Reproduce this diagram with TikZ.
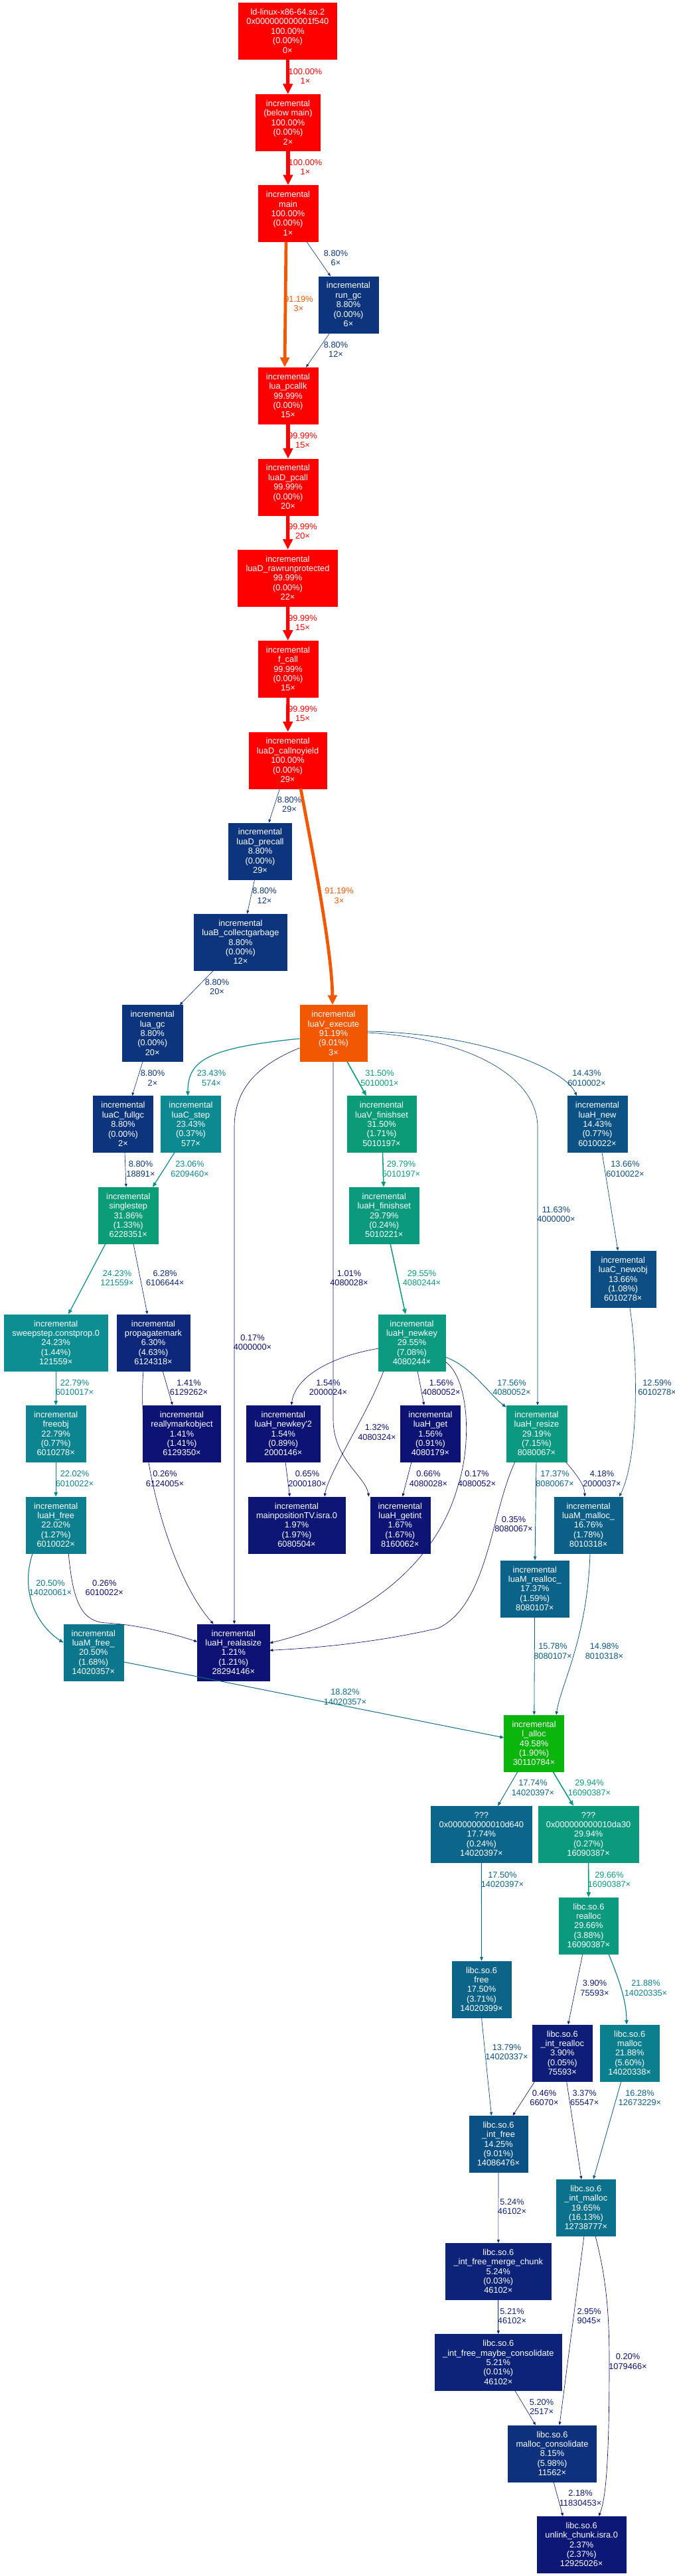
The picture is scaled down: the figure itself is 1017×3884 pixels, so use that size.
\documentclass[tikz,border=0pt]{standalone}
\usepackage{fontspec}
\setmainfont{Liberation Sans}
\usetikzlibrary{arrows.meta}

\newcommand\nodefont{\fontsize{12.8pt}{14.4pt}\selectfont}

% heat colour of a percentage: blue (0%) -> red (100%), in HSL
\newcommand\heatcolor[2]{%
  \pgfmathsetmacro\gpw{(#2)/100}%
  \pgfmathsetmacro\gph{2/3*(1-\gpw)}%
  \pgfmathsetmacro\gpl{0.25+0.25*\gpw}%
  \pgfmathsetmacro\gpb{\gpl*(1.8+0.2*\gpw)}%
  \pgfmathsetmacro\gpa{2*\gpl-\gpb}%
  \pgfmathsetmacro\gpr{ifthenelse(\gph<1/6, \gpb, ifthenelse(\gph<1/3, \gpa+(\gpb-\gpa)*(1/3-\gph)*6, \gpa))}%
  \pgfmathsetmacro\gpg{ifthenelse(\gph<1/6, \gpa+(\gpb-\gpa)*\gph*6, ifthenelse(\gph<1/2, \gpb, \gpa+(\gpb-\gpa)*(2/3-\gph)*6))}%
  \pgfmathsetmacro\gpbl{ifthenelse(\gph<1/3, \gpa, ifthenelse(\gph<1/2, \gpa+(\gpb-\gpa)*(\gph-1/3)*6, \gpb))}%
  \definecolor{#1}{rgb}{\gpr,\gpg,\gpbl}%
}

\tikzset{
  box/.style={rectangle, align=center, text=white, font=\nodefont,
    inner xsep=12pt, minimum height=85pt},
  heat/.code={\heatcolor{hc}{#1}\pgfkeysalso{fill=hc, draw=hc}},
  pct/.code={\heatcolor{hc}{#1}\pgfkeysalso{text=hc, align=center, font=\nodefont, inner sep=0pt}},
  calls/.code={\heatcolor{hc}{#1}%
    \pgfmathsetmacro\penw{max(0.04*(#1),0.5)}%
    \pgfmathsetmacro\linew{1.3*\penw}%
    \pgfmathsetmacro\tipl{6.5*sqrt(\penw)+0.5*\linew}%
    \pgfmathsetmacro\tipw{4.55*sqrt(\penw)+\linew}%
    \edef\calltip{\noexpand\pgfkeysalso{draw=hc, line width=\linew pt,
      -{Triangle[length=\tipl pt, width=\tipw pt]}}}\calltip},
}

\begin{document}
\begin{tikzpicture}[x=1pt, y=-1pt]
    \useasboundingbox (0,0) rectangle (1017,3884);
    \fill[white] (0,0) rectangle (1017,3884);

    % call chain down to the interpreter
    \node[box, heat=100] (ld) at (433.4,46.8) {ld-linux-x86-64.so.2\\0x000000000001f540\\100.00\%\\(0.00\%)\\0×};
    \node[box, heat=100] (belowmain) at (434,184.7) {incremental\\(below main)\\100.00\%\\(0.00\%)\\2×};
    \node[box, heat=100] (main) at (434,321.8) {incremental\\main\\100.00\%\\(0.00\%)\\1×};
    \node[box, heat=8.80] (rungc) at (525,459.2) {incremental\\run\_gc\\8.80\%\\(0.00\%)\\6×};
    \node[box, heat=99.99] (pcallk) at (434,596.5) {incremental\\lua\_pcallk\\99.99\%\\(0.00\%)\\15×};
    \node[box, heat=99.99] (dpcall) at (434,734.2) {incremental\\luaD\_pcall\\99.99\%\\(0.00\%)\\20×};
    \node[box, heat=99.99] (rawrun) at (433.5,871.2) {incremental\\luaD\_rawrunprotected\\99.99\%\\(0.00\%)\\22×};
    \node[box, heat=99.99] (fcall) at (434,1008.5) {incremental\\f\_call\\99.99\%\\(0.00\%)\\15×};
    \node[box, heat=100] (noyield) at (433.6,1146.2) {incremental\\luaD\_callnoyield\\100.00\%\\(0.00\%)\\29×};
    \node[box, heat=8.80] (precall) at (392,1283.2) {incremental\\luaD\_precall\\8.80\%\\(0.00\%)\\29×};
    \node[box, heat=8.80] (collectgc) at (362.4,1420.5) {incremental\\luaB\_collectgarbage\\8.80\%\\(0.00\%)\\12×};
    \node[box, heat=8.80] (luagc) at (229.7,1558) {incremental\\lua\_gc\\8.80\%\\(0.00\%)\\20×};
    \node[box, heat=91.19] (execute) at (502.5,1558) {incremental\\luaV\_execute\\91.19\%\\(9.01\%)\\3×};

    % collector and table functions
    \node[box, heat=8.80] (fullgc) at (185.5,1695) {incremental\\luaC\_fullgc\\8.80\%\\(0.00\%)\\2×};
    \node[box, heat=23.43] (cstep) at (287.5,1695) {incremental\\luaC\_step\\23.43\%\\(0.37\%)\\577×};
    \node[box, heat=31.50] (vfinish) at (575,1695) {incremental\\luaV\_finishset\\31.50\%\\(1.71\%)\\5010197×};
    \node[box, heat=14.43] (hnew) at (900,1695) {incremental\\luaH\_new\\14.43\%\\(0.77\%)\\6010022×};
    \node[box, heat=31.86] (single) at (193.3,1832.5) {incremental\\singlestep\\31.86\%\\(1.33\%)\\6228351×};
    \node[box, heat=29.79] (hfinish) at (578.8,1832.5) {incremental\\luaH\_finishset\\29.79\%\\(0.24\%)\\5010221×};
    \node[box, heat=13.66] (newobj) at (938.8,1928.5) {incremental\\luaC\_newobj\\13.66\%\\(1.08\%)\\6010278×};
    \node[box, heat=24.23] (sweep) at (84.2,2024.2) {incremental\\sweepstep.constprop.0\\24.23\%\\(1.44\%)\\121559×};
    \node[box, heat=6.30] (propmark) at (231,2024.2) {incremental\\propagatemark\\6.30\%\\(4.63\%)\\6124318×};
    \node[box, heat=29.55] (newkey) at (620.5,2024.2) {incremental\\luaH\_newkey\\29.55\%\\(7.08\%)\\4080244×};
    \node[box, heat=22.79] (freeobj) at (84.2,2161.5) {incremental\\freeobj\\22.79\%\\(0.77\%)\\6010278×};
    \node[box, heat=1.41] (reallymark) at (274,2161.5) {incremental\\reallymarkobject\\1.41\%\\(1.41\%)\\6129350×};
    \node[box, heat=1.54] (newkeyb) at (426.8,2161.5) {incremental\\luaH\_newkey\textquotesingle 2\\1.54\%\\(0.89\%)\\2000146×};
    \node[box, heat=1.56] (hget) at (648.5,2161.5) {incremental\\luaH\_get\\1.56\%\\(0.91\%)\\4080179×};
    \node[box, heat=29.19] (resize) at (808.5,2161.5) {incremental\\luaH\_resize\\29.19\%\\(7.15\%)\\8080067×};
    \node[box, heat=22.02] (hfree) at (84.2,2299.2) {incremental\\luaH\_free\\22.02\%\\(1.27\%)\\6010022×};
    \node[box, heat=1.97] (mainpos) at (447,2299.2) {incremental\\mainpositionTV.isra.0\\1.97\%\\(1.97\%)\\6080504×};
    \node[box, heat=1.67] (getint) at (602.8,2299.2) {incremental\\luaH\_getint\\1.67\%\\(1.67\%)\\8160062×};
    \node[box, heat=16.76] (mmalloc) at (886.6,2299.2) {incremental\\luaM\_malloc\_\\16.76\%\\(1.78\%)\\8010318×};
    \node[box, heat=17.37] (mrealloc) at (805.8,2395.2) {incremental\\luaM\_realloc\_\\17.37\%\\(1.59\%)\\8080107×};
    \node[box, heat=20.50] (mfree) at (140.8,2491.3) {incremental\\luaM\_free\_\\20.50\%\\(1.68\%)\\14020357×};
    \node[box, heat=1.21] (realasize) at (351.8,2491.3) {incremental\\luaH\_realasize\\1.21\%\\(1.21\%)\\28294146×};
    \node[box, heat=49.58] (lalloc) at (804.6,2628.5) {incremental\\l\_alloc\\49.58\%\\(1.90\%)\\30110784×};

    % libc allocator
    \node[box, heat=17.74] (ua) at (725.4,2765.5) {???\\0x000000000010d640\\17.74\%\\(0.24\%)\\14020397×};
    \node[box, heat=29.94] (ub) at (886.6,2765.5) {???\\0x000000000010da30\\29.94\%\\(0.27\%)\\16090387×};
    \node[box, heat=29.66] (crealloc) at (886.9,2903.3) {libc.so.6\\realloc\\29.66\%\\(3.88\%)\\16090387×};
    \node[box, heat=17.50] (cfree) at (725.5,2999.2) {libc.so.6\\free\\17.50\%\\(3.71\%)\\14020399×};
    \node[box, heat=3.90] (intrealloc) at (847.3,3095.2) {libc.so.6\\\_int\_realloc\\3.90\%\\(0.05\%)\\75593×};
    \node[box, heat=21.88] (cmalloc) at (948.7,3095.2) {libc.so.6\\malloc\\21.88\%\\(5.60\%)\\14020338×};
    \node[box, heat=14.25] (intfree) at (751,3232.5) {libc.so.6\\\_int\_free\\14.25\%\\(9.01\%)\\14086476×};
    \node[box, heat=19.65] (intmalloc) at (882.8,3328.5) {libc.so.6\\\_int\_malloc\\19.65\%\\(16.13\%)\\12738777×};
    \node[box, heat=5.24] (merge) at (750.8,3424.5) {libc.so.6\\\_int\_free\_merge\_chunk\\5.24\%\\(0.03\%)\\46102×};
    \node[box, heat=5.21] (maybe) at (750.8,3561.8) {libc.so.6\\\_int\_free\_maybe\_consolidate\\5.21\%\\(0.01\%)\\46102×};
    \node[box, heat=8.15] (consol) at (832,3699.2) {libc.so.6\\malloc\_consolidate\\8.15\%\\(5.98\%)\\11562×};
    \node[box, heat=2.37] (unlink) at (876.2,3836.5) {libc.so.6\\unlink\_chunk.isra.0\\2.37\%\\(2.37\%)\\12925026×};

    % calls
    \draw[calls=100] (ld) -- (belowmain);
    \draw[calls=100] (belowmain) -- (main);
    \draw[calls=8.80] ([xshift=28pt]main.south) -- ([xshift=-27pt]rungc.north);
    \draw[calls=91.19] ([xshift=-3pt]main.south) -- ([xshift=-5pt]pcallk.north);
    \draw[calls=8.80] ([xshift=-28pt]rungc.south) -- ([xshift=27pt]pcallk.north);
    \draw[calls=99.99] (pcallk) -- (dpcall);
    \draw[calls=99.99] (dpcall) -- (rawrun);
    \draw[calls=99.99] (rawrun) -- (fcall);
    \draw[calls=99.99] (fcall) -- (noyield);
    \draw[calls=8.80] ([xshift=-12pt]noyield.south) -- ([xshift=13pt]precall.north);
    \draw[calls=91.19] ([xshift=19.4pt]noyield.south) .. controls (470,1280) and (500,1430) .. ([xshift=-1.5pt]execute.north);
    \draw[calls=8.80] ([xshift=-8.3pt]precall.south) -- ([xshift=10pt]collectgc.north);
    \draw[calls=8.80] ([xshift=-40.8pt]collectgc.south) -- ([xshift=41pt]luagc.north);
    \draw[calls=8.80] ([xshift=-14.7pt]luagc.south) -- ([xshift=13.5pt]fullgc.north);
    \draw[calls=23.43] ([yshift=-8pt]execute.west) .. controls (310,1580) and (283,1600) .. ([xshift=-4.5pt]cstep.north);
    \draw[calls=31.50] ([xshift=20.5pt]execute.south) -- ([xshift=-23pt]vfinish.north);
    \draw[calls=14.43] ([yshift=3pt]execute.east) .. controls (720,1558) and (850,1610) .. ([xshift=-31pt]hnew.north);
    \draw[calls=11.63] ([yshift=1pt]execute.east) .. controls (700,1565) and (810,1620) .. (810,1700) -- ([xshift=1.5pt]resize.north);
    \draw[calls=0.17] ([yshift=-22pt]execute.west) .. controls (390,1605) and (353,1640) .. (353,1700) -- ([xshift=1.2pt]realasize.north);
    \draw[calls=1.01] ([xshift=-0.5pt]execute.south) -- (502,2140) .. controls (502,2200) and (550,2225) .. ([xshift=-47pt]getint.north);
    \draw[calls=8.80] ([xshift=2.5pt]fullgc.south) -- ([xshift=-3.3pt]single.north);
    \draw[calls=23.06] ([xshift=-24.5pt]cstep.south) -- ([xshift=36.7pt]single.north);
    \draw[calls=29.79] ([xshift=1.5pt]vfinish.south) -- ([xshift=-0.8pt]hfinish.north);
    \draw[calls=13.66] ([xshift=7pt]hnew.south) -- ([xshift=-7.8pt]newobj.north);
    \draw[calls=24.23] ([xshift=-34.3pt]single.south) -- ([xshift=18.8pt]sweep.north);
    \draw[calls=6.28] ([xshift=7.7pt]single.south) -- ([xshift=-9pt]propmark.north);
    \draw[calls=29.55] ([xshift=9.2pt]hfinish.south) -- ([xshift=-9.5pt]newkey.north);
    \draw[calls=22.79] (sweep) -- (freeobj);
    \draw[calls=1.41] ([xshift=14pt]propmark.south) -- ([xshift=-14pt]reallymark.north);
    \draw[calls=0.26] ([xshift=-15pt]propmark.south) .. controls (205,2200) and (260,2380) .. ([xshift=-30.2pt]realasize.north);
    \draw[calls=1.54] ([yshift=-9pt]newkey.west) .. controls (500,2045) and (445,2075) .. ([xshift=12.2pt]newkeyb.north);
    \draw[calls=1.56] ([xshift=8.5pt]newkey.south) -- ([xshift=-9.5pt]hget.north);
    \draw[calls=17.56] ([yshift=-22pt]newkey.east) .. controls (710,2060) and (735,2100) .. ([yshift=-3pt]resize.north west);
    \draw[calls=1.32] ([xshift=-42.5pt]newkey.south) .. controls (555,2130) and (495,2220) .. ([xshift=42pt]mainpos.north);
    \draw[calls=0.17] ([yshift=-29pt]newkey.east) .. controls (708,2080) and (710,2180) .. (690,2240) .. controls (660,2350) and (560,2440) .. ([yshift=14pt]realasize.east);
    \draw[calls=0.65] ([xshift=3.2pt]newkeyb.south) -- ([xshift=-10.4pt]mainpos.north);
    \draw[calls=0.66] ([xshift=-28.5pt]hget.south) -- ([xshift=3.7pt]getint.north);
    \draw[calls=17.37] ([xshift=-0.5pt]resize.south) -- ([xshift=0.2pt]mrealloc.north);
    \draw[calls=4.18] ([xshift=-2pt]resize.south east) .. controls (870,2225) and (881,2240) .. ([xshift=-5.6pt]mmalloc.north);
    \draw[calls=0.35] ([xshift=-32.5pt]resize.south) .. controls (740,2280) and (735,2420) .. (660,2455) .. controls (560,2478) and (470,2485) .. ([yshift=3pt]realasize.east);
    \draw[calls=12.59] ([xshift=10pt]newobj.south) .. controls (962,2050) and (962,2200) .. ([xshift=46.4pt]mmalloc.north);
    \draw[calls=22.02] (freeobj) -- (hfree);
    \draw[calls=20.50] ([xshift=-35pt]hfree.south) .. controls (30,2400) and (55,2450) .. ([yshift=14.6pt]mfree.west);
    \draw[calls=0.26] ([xshift=19pt]hfree.south) .. controls (110,2420) and (125,2445) .. (160,2447) .. controls (200,2449) and (250,2460) .. ([yshift=16pt]realasize.west);
    \draw[calls=18.82] ([yshift=-14.4pt]mfree.east) -- ([yshift=8.5pt]lalloc.west);
    \draw[calls=15.78] (mrealloc) -- (lalloc);
    \draw[calls=14.98] ([xshift=2.4pt]mmalloc.south) .. controls (885,2470) and (845,2540) .. ([xshift=33.4pt]lalloc.north);
    \draw[calls=17.74] ([xshift=-24.6pt]lalloc.south) -- ([xshift=24.6pt]ua.north);
    \draw[calls=29.94] ([xshift=28.4pt]lalloc.south) -- ([xshift=-22.6pt]ub.north);
    \draw[calls=17.50] (ua) -- (cfree);
    \draw[calls=29.66] (ub) -- (crealloc);
    \draw[calls=3.90] ([xshift=-9pt]crealloc.south) -- ([xshift=8.7pt]intrealloc.north);
    \draw[calls=21.88] ([xshift=30pt]crealloc.south) .. controls (935,2990) and (944,3020) .. ([xshift=-4.7pt]cmalloc.north);
    \draw[calls=13.79] (cfree.south) -- ([xshift=-10.5pt]intfree.north);
    \draw[calls=0.46] ([xshift=-41.3pt]intrealloc.south) -- ([xshift=21.5pt]intfree.north);
    \draw[calls=3.37] ([xshift=6.3pt]intrealloc.south) -- ([xshift=-6.8pt]intmalloc.north);
    \draw[calls=16.28] ([xshift=-12.7pt]cmalloc.south) -- ([xshift=11.2pt]intmalloc.north);
    \draw[calls=5.24] (intfree) -- (merge);
    \draw[calls=5.21] (merge) -- (maybe);
    \draw[calls=2.95] ([xshift=-2.8pt]intmalloc.south) -- ([xshift=11pt]consol.north);
    \draw[calls=0.20] ([xshift=14.2pt]intmalloc.south) .. controls (912,3430) and (918,3480) .. (918,3560) .. controls (918,3720) and (912,3770) .. ([xshift=25.8pt]unlink.north);
    \draw[calls=5.20] ([xshift=25pt]maybe.south) -- ([xshift=-25pt]consol.north);
    \draw[calls=2.18] ([xshift=2pt]consol.south) -- ([xshift=-28pt]unlink.north);

    % call labels
    \node[pct=100] (le1) at (460,115) {100.00\%\\1×};
    \node[pct=100] (le2) at (460,252) {100.00\%\\1×};
    \node[pct=8.80] (le3) at (506,389) {8.80\%\\6×};
    \node[pct=91.19] (le4) at (450,458) {91.19\%\\3×};
    \node[pct=8.80] (le5) at (506,527) {8.80\%\\12×};
    \node[pct=99.99] (le6) at (456,664) {99.99\%\\15×};
    \node[pct=99.99] (le7) at (456,801) {99.99\%\\20×};
    \node[pct=99.99] (le8) at (456,939) {99.99\%\\15×};
    \node[pct=99.99] (le9) at (456,1076) {99.99\%\\15×};
    \node[pct=8.80] (le10) at (436,1213) {8.80\%\\29×};
    \node[pct=91.19] (le11) at (511,1350.5) {91.19\%\\3×};
    \node[pct=8.80] (le12) at (398.5,1350.5) {8.80\%\\12×};
    \node[pct=8.80] (le13) at (327,1488) {8.80\%\\20×};
    \node[pct=8.80] (le14) at (230,1625.5) {8.80\%\\2×};
    \node[pct=23.43] (le15) at (318.5,1625.5) {23.43\%\\574×};
    \node[pct=31.50] (le16) at (572,1625.5) {31.50\%\\5010001×};
    \node[pct=14.43] (le17) at (884,1625.5) {14.43\%\\6010002×};
    \node[pct=11.63] (le18) at (838,1831) {11.63\%\\4000000×};
    \node[pct=0.17] (le19) at (380.5,2024) {0.17\%\\4000000×};
    \node[pct=1.01] (le20) at (526,1927) {1.01\%\\4080028×};
    \node[pct=8.80] (le21) at (212,1762.5) {8.80\%\\18891×};
    \node[pct=23.06] (le22) at (286,1762.5) {23.06\%\\6209460×};
    \node[pct=29.79] (le23) at (604.5,1762.5) {29.79\%\\5010197×};
    \node[pct=13.66] (le24) at (942,1762.5) {13.66\%\\6010022×};
    \node[pct=24.23] (le25) at (176.5,1927) {24.23\%\\121559×};
    \node[pct=6.28] (le26) at (248.7,1927) {6.28\%\\6106644×};
    \node[pct=29.55] (le27) at (635.5,1927) {29.55\%\\4080244×};
    \node[pct=22.79] (le28) at (112.5,2092) {22.79\%\\6010017×};
    \node[pct=1.41] (le29) at (284.5,2092) {1.41\%\\6129262×};
    \node[pct=0.26] (le30) at (248.5,2229.5) {0.26\%\\6124005×};
    \node[pct=1.54] (le31) at (494.5,2092) {1.54\%\\2000024×};
    \node[pct=1.56] (le32) at (665,2092) {1.56\%\\4080052×};
    \node[pct=17.56] (le33) at (771,2092) {17.56\%\\4080052×};
    \node[pct=1.32] (le34) at (568,2159.5) {1.32\%\\4080324×};
    \node[pct=0.17] (le35) at (718.5,2229.5) {0.17\%\\4080052×};
    \node[pct=0.65] (le36) at (463,2229.5) {0.65\%\\2000180×};
    \node[pct=0.66] (le37) at (645.5,2229.5) {0.66\%\\4080028×};
    \node[pct=17.37] (le38) at (836,2229.5) {17.37\%\\8080067×};
    \node[pct=4.18] (le39) at (907,2229.5) {4.18\%\\2000037×};
    \node[pct=0.35] (le40) at (774,2298) {0.35\%\\8080067×};
    \node[pct=12.59] (le41) at (990,2092) {12.59\%\\6010278×};
    \node[pct=22.02] (le42) at (112.5,2229.5) {22.02\%\\6010022×};
    \node[pct=20.50] (le43) at (76,2394) {20.50\%\\14020061×};
    \node[pct=0.26] (le44) at (157.3,2394) {0.26\%\\6010022×};
    \node[pct=18.82] (le45) at (520,2558.5) {18.82\%\\14020357×};
    \node[pct=15.78] (le46) at (833,2489.5) {15.78\%\\8080107×};
    \node[pct=14.98] (le47) at (910.5,2489.5) {14.98\%\\8010318×};
    \node[pct=17.74] (le48) at (803,2695.5) {17.74\%\\14020397×};
    \node[pct=29.94] (le49) at (888,2695.5) {29.94\%\\16090387×};
    \node[pct=17.50] (le50) at (757,2834) {17.50\%\\14020397×};
    \node[pct=29.66] (le51) at (918,2834) {29.66\%\\16090387×};
    \node[pct=3.90] (le52) at (896,2997.5) {3.90\%\\75593×};
    \node[pct=21.88] (le53) at (973,2997.5) {21.88\%\\14020335×};
    \node[pct=13.79] (le54) at (763.5,3094) {13.79\%\\14020337×};
    \node[pct=0.46] (le55) at (820,3163) {0.46\%\\66070×};
    \node[pct=3.37] (le56) at (880.7,3163) {3.37\%\\65547×};
    \node[pct=16.28] (le57) at (964,3163) {16.28\%\\12673229×};
    \node[pct=5.24] (le58) at (771.5,3327) {5.24\%\\46102×};
    \node[pct=5.21] (le59) at (771.5,3492) {5.21\%\\46102×};
    \node[pct=2.95] (le60) at (887.7,3492) {2.95\%\\9045×};
    \node[pct=0.20] (le61) at (946,3560.5) {0.20\%\\1079466×};
    \node[pct=5.20] (le62) at (816,3629) {5.20\%\\2517×};
    \node[pct=2.18] (le63) at (874.5,3766.5) {2.18\%\\11830453×};
\end{tikzpicture}
\end{document}
